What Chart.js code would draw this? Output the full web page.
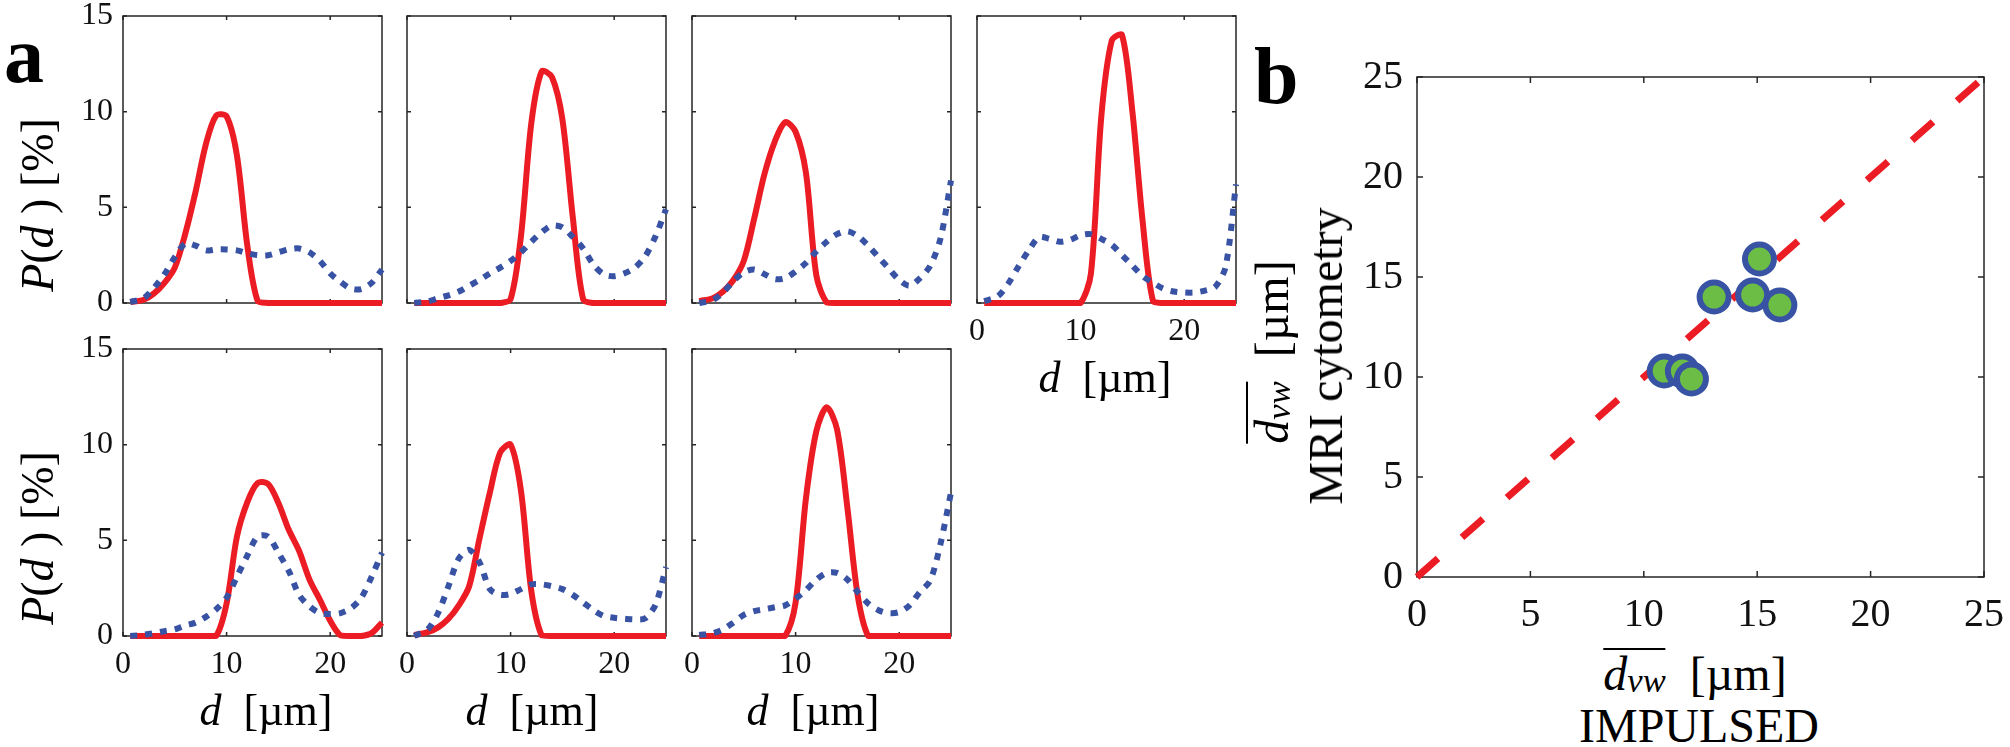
<!DOCTYPE html>
<html><head><meta charset="utf-8">
<script src="https://cdn.jsdelivr.net/npm/chart.js@4.4.1/dist/chart.umd.min.js"></script>
<style>
html,body{margin:0;padding:0;background:#fff;}
body{width:2010px;height:747px;position:relative;overflow:hidden;font-family:'Liberation Serif','Times New Roman',serif;color:#000;}
canvas{position:absolute;}
.lbl{position:absolute;white-space:nowrap;line-height:1;}
.ov{display:inline-block;border-top:2px solid #000;line-height:1;}
.sub{font-size:0.72em;vertical-align:-2px;}
</style></head><body>
<script>
// ---------- DATA ----------
const diameters = [0.7,2,3,4,5,6,7,8,9,10,11,12,13,14,15,16,17,18,19,20,21,22,23,24,25];
const xTickVals = [0,10,20];
const yTickVals = [0,5,10,15];
const bTickVals = [0,5,10,15,20,25];

const redP1  = [0.05,0.17,0.5,1.05,1.85,3.6,5.8,8.3,9.8,9.75,7.7,3.0,0.1,0,0,0,0,0,0,0,0,0,0,0,0];
const blueP1 = [0.05,0.25,0.8,1.5,2.4,3.1,3.0,2.75,2.8,2.8,2.75,2.6,2.5,2.5,2.65,2.8,2.85,2.65,2.2,1.55,1.1,0.75,0.73,1.05,1.75];
const redP2  = [0,0,0,0,0,0,0,0,0,0.2,3.5,9.4,12.1,11.8,9.6,4.5,0.2,0,0,0,0,0,0,0,0];
const blueP2 = [0,0.08,0.25,0.4,0.6,0.9,1.2,1.55,1.85,2.2,2.65,3.2,3.7,4.05,3.95,3.45,2.85,2.0,1.5,1.4,1.55,1.85,2.45,3.5,4.9];
const redP3  = [0.1,0.25,0.6,1.2,2.2,4.4,6.75,8.45,9.45,8.95,6.8,1.45,0.03,0,0,0,0,0,0,0,0,0,0,0,0];
const blueP3 = [0,0.15,0.55,1.15,1.6,1.75,1.5,1.25,1.3,1.65,2.1,2.7,3.2,3.6,3.75,3.5,3.0,2.4,1.8,1.2,0.9,1.3,1.95,3.4,6.4];
const redP4  = [0,0,0,0,0,0,0,0,0,0,1.55,9.75,13.7,14.0,10.0,4.2,0.08,0,0,0,0,0,0,0,0];
const blueP4 = [0.1,0.35,1.0,1.9,2.75,3.45,3.35,3.2,3.3,3.55,3.6,3.35,3.05,2.5,1.95,1.4,1.05,0.75,0.6,0.55,0.55,0.65,0.85,1.9,6.2];
const redP5  = [0,0,0,0,0,0,0,0,0,1.7,5.2,7.0,8.0,7.95,6.95,5.55,4.45,2.95,1.9,0.8,0.03,0,0,0.15,0.7];
const blueP5 = [0,0.07,0.15,0.25,0.35,0.55,0.7,1.0,1.4,2.0,3.1,4.2,5.2,5.2,4.35,3.4,2.15,1.55,1.2,1.15,1.2,1.45,2.0,3.1,4.35];
const redP6  = [0.05,0.2,0.45,0.9,1.6,2.6,5.1,7.5,9.6,10.0,7.6,2.35,0.03,0,0,0,0,0,0,0,0,0,0,0,0];
const blueP6 = [0,0.35,1.2,2.6,4.05,4.5,3.85,2.45,2.15,2.2,2.45,2.7,2.7,2.6,2.45,2.15,1.75,1.35,1.05,0.95,0.9,0.87,0.93,1.65,3.6];
const redP7  = [0,0,0,0,0,0,0,0,0,1.75,7.2,10.7,11.95,10.8,6.7,2.1,0,0,0,0,0,0,0,0,0];
const blueP7 = [0.05,0.15,0.35,0.7,1.1,1.3,1.4,1.5,1.6,1.95,2.4,2.95,3.3,3.3,2.95,2.3,1.7,1.35,1.2,1.25,1.6,2.3,2.9,4.85,7.5];

const impulsedDvw = [10.9,11.7,12.1,13.1,14.8,15.1,16.0];
const mriDvw      = [10.3,10.3,9.9,14.0,14.1,15.9,13.6];
const identityLine = [0,25];

// ---------- STYLE / LAYOUT ----------
const RED = '#ec1c24', BLUE = '#3852a4', GREEN = '#6bbd45', AXIS = '#262626';
const FAM = "'Liberation Serif', 'Times New Roman', serif";
const colLeft = [123, 407, 692, 977];
const rowTop = [16, 349];
const PW = 259, PH = 287;

const boxPlugin = {
  id: 'box',
  beforeDatasetsDraw(chart, args, o) {
    const {ctx, chartArea: a} = chart;
    const x = chart.scales.x, y = chart.scales.y;
    ctx.save();
    ctx.strokeStyle = AXIS;
    ctx.lineWidth = o.lw;
    ctx.strokeRect(a.left, a.top, a.right - a.left, a.bottom - a.top);
    ctx.beginPath();
    o.xt.forEach(v => { const p = x.getPixelForValue(v);
      ctx.moveTo(p, a.bottom); ctx.lineTo(p, a.bottom - o.tl);
      ctx.moveTo(p, a.top); ctx.lineTo(p, a.top + o.tl); });
    o.yt.forEach(v => { const p = y.getPixelForValue(v);
      ctx.moveTo(a.left, p); ctx.lineTo(a.left + o.tl, p);
      ctx.moveTo(a.right, p); ctx.lineTo(a.right - o.tl, p); });
    ctx.stroke();
    ctx.restore();
  }
};

function mkCanvas(left, top, w, h) {
  const c = document.createElement('canvas');
  c.width = w; c.height = h;
  c.style.left = left + 'px'; c.style.top = top + 'px';
  c.style.width = w + 'px'; c.style.height = h + 'px';
  document.body.appendChild(c);
  return c;
}
const pts = vals => diameters.map((d, i) => ({x: d, y: vals[i]}));

function makePanel(red, blue, col, row, showX, showY) {
  const L = colLeft[col], T = rowTop[row];
  const mL = 70, mT = 40, mR = 40, mB = 60;
  const c = mkCanvas(L - mL, T - mT, mL + PW + mR, mT + PH + mB);
  new Chart(c, {
    type: 'line',
    data: { datasets: [
      {data: pts(blue), borderColor: BLUE, borderWidth: 6, borderDash: [7, 8], pointRadius: 0,
       tension: 0.3, clip: false, borderCapStyle: 'butt'},
      {data: pts(red), borderColor: RED, borderWidth: 6, pointRadius: 0,
       tension: 0.3, clip: false, borderCapStyle: 'butt', borderJoinStyle: 'round'}
    ]},
    options: {
      responsive: false, animation: false, devicePixelRatio: 1,
      events: [],
      layout: {autoPadding: false, padding: {left: 0, top: mT, right: mR, bottom: 0}},
      plugins: {legend: {display: false}, tooltip: {enabled: false},
        box: {lw: 1.5, tl: 4, xt: xTickVals, yt: yTickVals}},
      scales: {
        x: {type: 'linear', min: 0, max: 25,
            afterFit: s => { s.height = mB; },
            afterBuildTicks: s => { s.ticks = xTickVals.map(v => ({value: v})); },
            grid: {display: false, drawTicks: false, tickLength: 0}, border: {display: false},
            ticks: {display: showX, padding: 9, autoSkip: false, maxRotation: 0, color: '#111',
                    font: {family: FAM, size: 32}}},
        y: {type: 'linear', min: 0, max: 15,
            afterFit: s => { s.width = mL; },
            afterBuildTicks: s => { s.ticks = yTickVals.map(v => ({value: v})); },
            grid: {display: false, drawTicks: false, tickLength: 0}, border: {display: false},
            ticks: {display: showY, padding: 10, autoSkip: false, color: '#111',
                    font: {family: FAM, size: 32}}}
      }
    },
    plugins: [boxPlugin]
  });
}

makePanel(redP1, blueP1, 0, 0, false, true);
makePanel(redP2, blueP2, 1, 0, false, false);
makePanel(redP3, blueP3, 2, 0, false, false);
makePanel(redP4, blueP4, 3, 0, true, false);
makePanel(redP5, blueP5, 0, 1, true, true);
makePanel(redP6, blueP6, 1, 1, true, false);
makePanel(redP7, blueP7, 2, 1, true, false);

// Panel b
(function(){
  const L = 1417, T = 77, W = 567, H = 500;
  const mL = 80, mT = 70, mR = 70, mB = 70;
  const c = mkCanvas(L - mL, T - mT, mL + W + mR, mT + H + mB);
  new Chart(c, {
    type: 'scatter',
    data: { datasets: [
      {data: impulsedDvw.map((v, i) => ({x: v, y: mriDvw[i]})), pointRadius: 14.5, borderWidth: 6,
       backgroundColor: GREEN, borderColor: BLUE, pointStyle: 'circle', clip: false},
      {data: identityLine.map(v => ({x: v, y: v})), showLine: true, pointRadius: 0, borderColor: RED,
       borderWidth: 7, borderDash: [28, 32], borderCapStyle: 'butt', clip: false}
    ]},
    options: {
      responsive: false, animation: false, devicePixelRatio: 1,
      events: [],
      layout: {autoPadding: false, padding: {left: 0, top: mT, right: mR, bottom: 0}},
      plugins: {legend: {display: false}, tooltip: {enabled: false},
        box: {lw: 1.5, tl: 6, xt: bTickVals, yt: bTickVals}},
      scales: {
        x: {type: 'linear', min: 0, max: 25,
            afterFit: s => { s.height = mB; },
            afterBuildTicks: s => { s.ticks = bTickVals.map(v => ({value: v})); },
            grid: {display: false, drawTicks: false, tickLength: 0}, border: {display: false},
            ticks: {padding: 14, autoSkip: false, maxRotation: 0, color: '#111', font: {family: FAM, size: 40}}},
        y: {type: 'linear', min: 0, max: 25,
            afterFit: s => { s.width = mL; },
            afterBuildTicks: s => { s.ticks = bTickVals.map(v => ({value: v})); },
            grid: {display: false, drawTicks: false, tickLength: 0}, border: {display: false},
            ticks: {padding: 14, autoSkip: false, color: '#111', font: {family: FAM, size: 40}}}
      }
    },
    plugins: [boxPlugin]
  });
})();

// ---------- TEXT ----------
function addText(html, x, baseline, fs, align, bold) {
  const d = document.createElement('div');
  d.className = 'lbl'; d.innerHTML = html;
  d.style.fontSize = fs + 'px';
  d.style.top = (baseline - 0.8375 * fs) + 'px';
  d.style.left = x + 'px';
  if (align !== 'left') d.style.transform = 'translateX(-50%)';
  if (bold) d.style.fontWeight = 'bold';
  document.body.appendChild(d);
}
function addRot(html, cx, cy, fs) {
  const d = document.createElement('div');
  d.className = 'lbl'; d.innerHTML = html;
  d.style.fontSize = fs + 'px';
  d.style.left = cx + 'px'; d.style.top = cy + 'px';
  d.style.transform = 'translate(-50%,-50%) rotate(-90deg)';
  document.body.appendChild(d);
}
const pdLabel = '<i>P</i>(<i>d</i> ) [%]';
const dLabel = '<i>d</i>&nbsp; [µm]';
const dvwLabel = '<span class="ov"><i>d</i><i class="sub">vw</i></span>&nbsp; [µm]';

addText('a', 4, 82, 80, 'left', true);
addText('b', 1254, 103, 80, 'left', true);
addRot(pdLabel, 38, 205, 46);
addRot(pdLabel, 38, 538, 46);
addText(dLabel, 1105, 393, 44);
addText(dLabel, 266, 726, 44);
addText(dLabel, 532, 726, 44);
addText(dLabel, 813, 726, 44);
addRot(dvwLabel, 1271, 352, 48);
addRot('MRI cytometry', 1326, 356, 48);
addText(dvwLabel, 1695, 688, 48);
addText('IMPULSED', 1699, 742, 48);
</script>
</body></html>
